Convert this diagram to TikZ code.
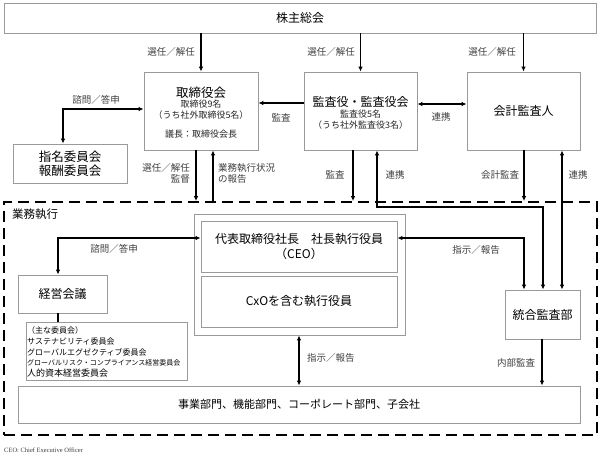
\documentclass[tikz,border=0pt]{standalone}
\usepackage{fontspec}
\setmainfont{Noto Sans CJK JP}
\newfontfamily\serifnote{Liberation Serif}
\usetikzlibrary{arrows.meta}
\definecolor{boxgray}{HTML}{9A9A9A}
\definecolor{labgray}{HTML}{404040}
\tikzset{
 box/.style={draw=boxgray, line width=0.8pt, inner sep=0pt, fill=white},
 conn/.style={line width=1.3pt, draw=black},
 arr/.style={conn, -{Latex[length=5pt,width=4.5pt]}},
 darr/.style={conn, {Latex[length=5pt,width=4.5pt]}-{Latex[length=5pt,width=4.5pt]}},
 lab/.style={text=labgray, font=\fontsize{9.5}{11.5}\selectfont, inner sep=0pt},
 ttl/.style={font=\fontsize{12}{15}\selectfont, inner sep=0pt},
 sub/.style={font=\fontsize{9}{11}\selectfont, inner sep=0pt, text=black!85},
 frame/.style={draw=black, line width=1.8pt, dash pattern=on 11pt off 6pt, inner sep=0pt},
}
\begin{document}
\begin{tikzpicture}[x=1pt,y=-1pt]
\useasboundingbox (0,0) rectangle (600,456);
\fill[white] (0,0) rectangle (600,456);

% execution frame
\node[frame, minimum width=593pt, minimum height=233pt] (exec) at (300.5,318.5) {};
\node[ttl, anchor=west, font=\fontsize{11.5}{14}\selectfont] (exect) at (12,214) {業務執行};

% top boxes
\node[box, ttl, minimum width=592pt, minimum height=30pt] (sh) at (300,18) {株主総会};

\node[box, minimum width=114pt, minimum height=78pt] (tb) at (201,111) {};
\node[ttl, font=\fontsize{12.5}{15}\selectfont] (tb1) at (201,93) {取締役会};
\node[sub] (tb2) at (201,104.5) {取締役9名};
\node[sub] (tb3) at (201,115.5) {（うち社外取締役5名）};
\node[sub] (tb4) at (201,134) {議長：取締役会長};

\node[box, minimum width=113pt, minimum height=78pt] (ka) at (360.5,111) {};
\node[ttl] (ka1) at (360.5,102) {監査役・監査役会};
\node[sub] (ka2) at (360.5,114) {監査役5名};
\node[sub] (ka3) at (360.5,125) {（うち社外監査役3名）};

\node[box, ttl, minimum width=113pt, minimum height=78pt] (ac) at (523.5,111) {会計監査人};

\node[box, ttl, align=center, font=\fontsize{12.5}{13.5}\selectfont, minimum width=114pt, minimum height=39pt] (nc) at (70,163.5) {指名委員会\\報酬委員会};

% execution boxes
\node[box, minimum width=211pt, minimum height=121pt] (ceo) at (299.5,274.5) {};
\node[box, ttl, align=center, minimum width=196pt, minimum height=51pt] (ceo1) at (299,246.5) {代表取締役社長　社長執行役員\\（CEO）};
\node[box, ttl, minimum width=196pt, minimum height=51pt] (cxo) at (299,301.5) {CxOを含む執行役員};

\node[box, ttl, minimum width=89pt, minimum height=38pt] (km) at (62.5,294) {経営会議};
\node[box, minimum width=161pt, minimum height=58pt] (com) at (106.5,351) {};
\node[anchor=west, inner sep=0pt, align=left, font=\fontsize{8}{10.8}\selectfont] (comt) at (27,352) {（主な委員会）\\サステナビリティ委員会\\グローバルエグゼクティブ委員会\\{\fontsize{7}{10.8}\selectfont グローバルリスク・コンプライアンス経営委員会}\\{\fontsize{9}{10.8}\selectfont 人的資本経営委員会}};

\node[box, ttl, minimum width=75pt, minimum height=49pt] (ia) at (542.5,314.5) {統合監査部};
\node[box, ttl, font=\fontsize{11}{13}\selectfont, minimum width=562pt, minimum height=37pt] (biz) at (299,404.5) {事業部門、機能部門、コーポレート部門、子会社};

% connectors: shareholders
\draw[arr] (201,0 |- sh.south) -- (tb.north);
\draw[arr] (360.5,0 |- sh.south) -- (ka.north);
\draw[arr] (523.5,0 |- sh.south) -- (ac.north);
\node[lab] (l1) at (171,52) {選任／解任};
\node[lab] (l2) at (331,52) {選任／解任};
\node[lab] (l3) at (492,52) {選任／解任};

\draw[arr] (ka.west |- 0,103) -- (tb.east |- 0,103);
\node[lab] (l4) at (281,118) {監査};
\draw[darr] (ka.east |- 0,104) -- (ac.west |- 0,104);
\node[lab] (l5) at (441,117) {連携};

\draw[darr] (tb.west |- 0,109) -- (63,109) -- (63,0 |- nc.north);
\node[lab] (l6) at (96,100) {諮問／答申};

% board to execution
\draw[arr] (196,0 |- tb.south) -- (196,0 |- exec.north);
\draw[arr] (213,0 |- exec.north) -- (213,0 |- tb.south);
\node[lab, anchor=east, align=right] (l7) at (190,173.5) {選任／解任\\監督};
\node[lab, anchor=west, align=left] (l8) at (218,173.5) {業務執行状況\\の報告};

\draw[arr] (353,0 |- ka.south) -- (353,0 |- exec.north);
\node[lab] (l9) at (335,175) {監査};
\draw[darr] (377,0 |- ka.south) -- (377,207) -- (543,207) -- (543,0 |- ia.north);
\node[lab] (l10) at (395,175) {連携};

\draw[arr] (524,0 |- ac.south) -- (524,0 |- exec.north);
\node[lab] (l11) at (500,175) {会計監査};
\draw[darr] (562,0 |- ac.south) -- (562,0 |- ia.north);
\node[lab] (l12) at (578,175) {連携};

% execution connectors
\draw[darr] (ceo1.west |- 0,238) -- (58,238) -- (58,0 |- km.north);
\node[lab] (l13) at (114,249) {諮問／答申};
\draw[conn] (58,0 |- km.south) -- (58,0 |- com.north);

\draw[darr] (ceo1.east |- 0,238) -- (524,238) -- (524,0 |- ia.north);
\node[lab] (l14) at (476,250) {指示／報告};

\draw[darr] (299,0 |- ceo.south) -- (299,0 |- biz.north);
\node[lab, anchor=west] (l15) at (307,358) {指示／報告};

\draw[arr] (542,0 |- ia.south) -- (542,0 |- biz.north);
\node[lab] (l16) at (516,363) {内部監査};

\node[anchor=west, inner sep=0pt, font=\serifnote\fontsize{6.5}{8}\selectfont, text=labgray] (fn) at (4,450) {CEO: Chief Executive Officer};
\end{tikzpicture}
\end{document}
